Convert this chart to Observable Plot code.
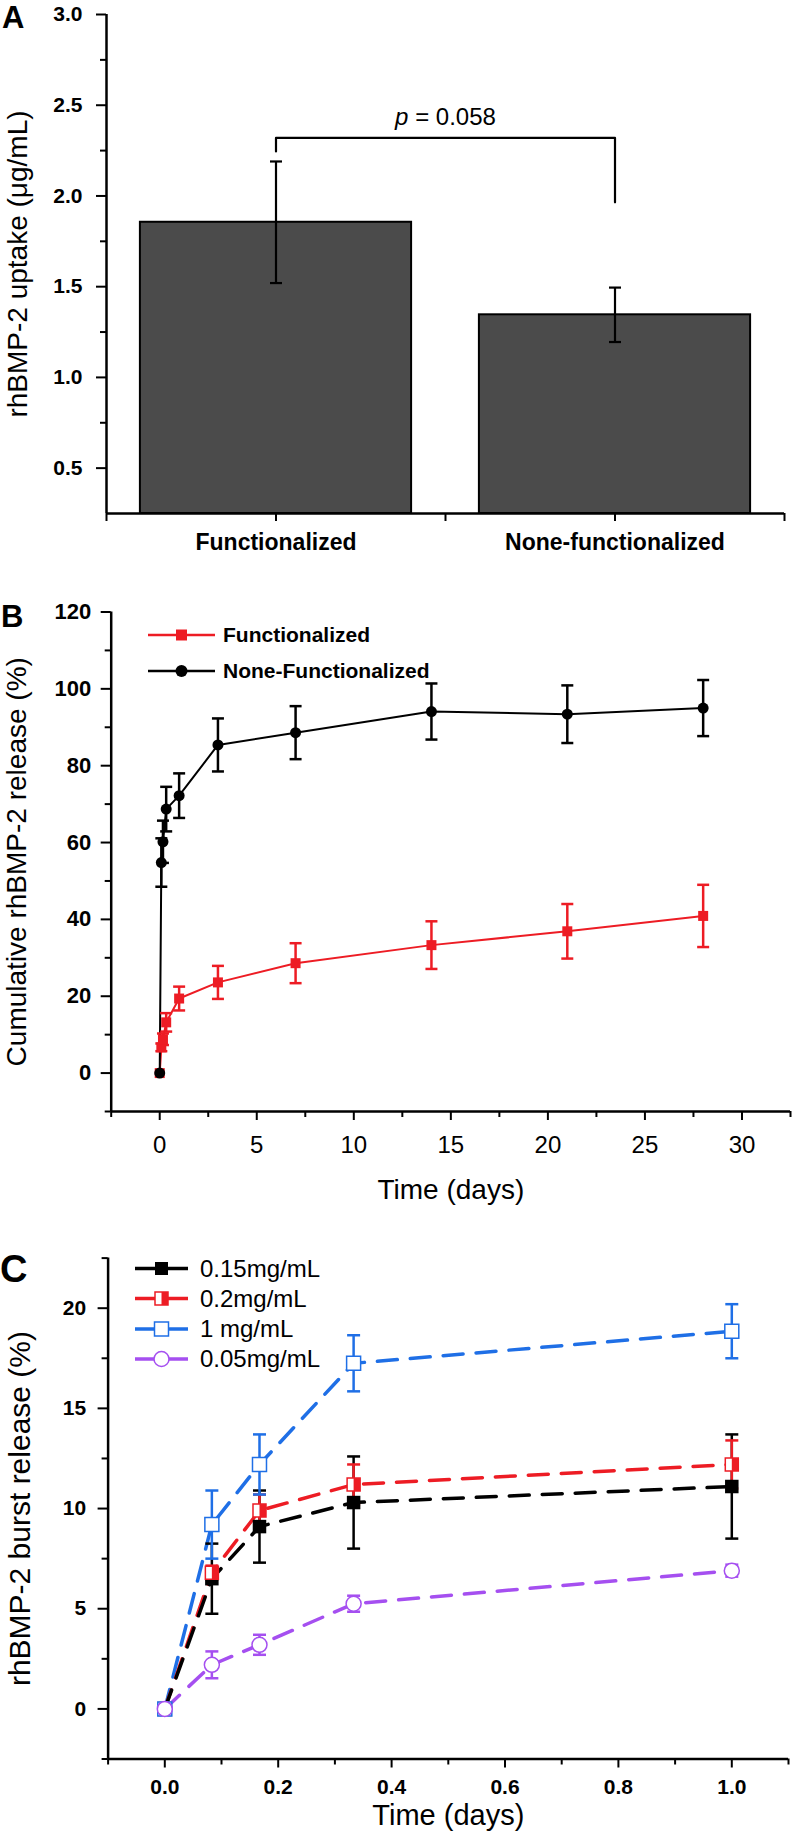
<!DOCTYPE html>
<html><head><meta charset="utf-8">
<script src="https://cdn.jsdelivr.net/npm/d3@7"></script>
<script src="https://cdn.jsdelivr.net/npm/@observablehq/plot@0.6"></script>
<style>
html,body{margin:0;padding:0;background:#fff;}
#fig{position:relative;width:792px;height:1839px;overflow:hidden;background:#fff;}
#fig > svg{position:absolute;left:0;}
</style></head><body><div id="fig"></div>
<script>
// ---------- DATA ----------
// Panel A
const categoriesA = ["Functionalized", "None-functionalized"];
const uptakeMean = [1.855, 1.345];
const uptakeErr = [0.335, 0.15];
const yTicksA = [0.5, 1.0, 1.5, 2.0, 2.5, 3.0];
const yMinorTicksA = [0.75, 1.25, 1.75, 2.25, 2.75];
const yDomainA = [0.25, 3.0];
const pSymbol = "p";
const pValue = "0.058";
const bracketTop = 2.32;
const bracketLeftEnd = 2.245;
const bracketRightEnd = 1.965;
const yTitleA = "rhBMP-2 uptake (\u03bcg/mL)";

// Panel B
const seriesNamesB = ["Functionalized", "None-Functionalized"];
const timeB = [0, 0.083, 0.167, 0.333, 1, 3, 7, 14, 21, 28];
const funcMean = [0, 6.7, 8.8, 13.2, 19.4, 23.6, 28.6, 33.3, 36.9, 40.9];
const funcErr  = [0, 1.0, 1.5, 2.4, 3.1, 4.3, 5.2, 6.2, 7.1, 8.1];
const noneMean = [0, 54.8, 60.2, 68.7, 72.2, 85.4, 88.6, 94.1, 93.4, 95.0];
const noneErr  = [0, 6.3, 5.5, 5.8, 5.8, 6.9, 6.9, 7.3, 7.5, 7.3];
const xDomainB = [-2.5, 32.5];
const xTicksB = [0, 5, 10, 15, 20, 25, 30];
const xMinorTicksB = [-2.5, 2.5, 7.5, 12.5, 17.5, 22.5, 27.5, 32.5];
const yDomainB = [-10, 120];
const yTicksB = [0, 20, 40, 60, 80, 100, 120];
const yMinorTicksB = [-10, 10, 30, 50, 70, 90, 110];
const yTitleB = "Cumulative rhBMP-2 release (%)";
const xTitle = "Time (days)";

// Panel C
const seriesNamesC = ["0.15mg/mL", "0.2mg/mL", "1 mg/mL", "0.05mg/mL"];
const timeC = [0, 0.083, 0.167, 0.333, 1.0];
const c015Mean = [0, 6.5, 9.1, 10.3, 11.1];
const c015Err  = [0, 1.75, 1.8, 2.3, 2.6];
const c02Mean  = [0, 6.8, 9.9, 11.2, 12.2];
const c02Err   = [0, 0.35, 0.8, 1.0, 1.2];
const c1Mean   = [0, 9.2, 12.2, 17.25, 18.85];
const c1Err    = [0, 1.7, 1.5, 1.4, 1.35];
const c005Mean = [0, 2.2, 3.2, 5.25, 6.9];
const c005Err  = [0, 0.67, 0.5, 0.4, 0.3];
const xDomainC = [-0.1, 1.1];
const xTicksC = [0, 0.2, 0.4, 0.6, 0.8, 1.0];
const xMinorTicksC = [-0.1, 0.1, 0.3, 0.5, 0.7, 0.9, 1.1];
const yDomainC = [-2.5, 22.5];
const yTicksC = [0, 5, 10, 15, 20];
const yMinorTicksC = [-2.5, 2.5, 7.5, 12.5, 17.5, 22.5];
const yTitleC = "rhBMP-2 burst release (%)";

// ---------- STYLE ----------
const FONT = '"Liberation Sans", Arial, Helvetica, sans-serif';
const RED = "#ed1c24", BLUE = "#1f6fe6", PURPLE = "#a54ff0", BLACK = "#000";
const capSymbol = {draw(ctx, size) { const w = Math.sqrt(size); ctx.moveTo(-w / 2, 0); ctx.lineTo(w / 2, 0); }};
const halfSquare = {draw(ctx, size) { const w = Math.sqrt(size); ctx.rect(0, -w / 2, w / 2, w); }};
const rW = w => w / Math.sqrt(Math.PI); // radius giving symbol width w

function errorBars(data, x, y, e, color, capW, sw) {
  const d = data.filter(v => v[e] > 0);
  return [
    Plot.ruleX(d, {x, y1: v => v[y] - v[e], y2: v => v[y] + v[e], stroke: color, strokeWidth: sw}),
    Plot.dot(d, {x, y: v => v[y] + v[e], symbol: capSymbol, r: rW(capW), stroke: color, fill: "none", strokeWidth: sw}),
    Plot.dot(d, {x, y: v => v[y] - v[e], symbol: capSymbol, r: rW(capW), stroke: color, fill: "none", strokeWidth: sw})
  ];
}

const fig = document.getElementById("fig");
const baseStyle = {fontFamily: FONT, background: "none", color: "#000", overflow: "visible"};

// ---------- PANEL A ----------
const dataA = categoriesA.map((c, i) => ({c, pos: 2 * i + 1, mean: uptakeMean[i], err: uptakeErr[i]}));
const bracket = [
  {x: dataA[0].pos, y: bracketLeftEnd},
  {x: dataA[0].pos, y: bracketTop},
  {x: dataA[1].pos, y: bracketTop},
  {x: dataA[1].pos, y: bracketRightEnd}
];
const xDomainA = [0, 2 * categoriesA.length];
const xTicksA = d3.range(xDomainA[0], xDomainA[1] + 1);
const svgA = Plot.plot({
  width: 792, height: 565,
  marginLeft: 106, marginRight: 8, marginTop: 14, marginBottom: 52,
  style: baseStyle,
  x: {domain: xDomainA},
  y: {domain: yDomainA},
  marks: [
    Plot.rectY(dataA, {x1: d => d.pos - 0.8, x2: d => d.pos + 0.8, y1: () => yDomainA[0], y2: "mean",
      fill: "#4b4b4b", stroke: "#000", strokeWidth: 2}),
    ...errorBars(dataA, "pos", "mean", "err", "#000", 12, 2.2),
    Plot.line(bracket, {x: "x", y: "y", stroke: "#000", strokeWidth: 2.2}),
    Plot.text([pSymbol + " = " + pValue], {x: () => (dataA[0].pos + dataA[1].pos) / 2, y: () => bracketTop,
      dy: -21, fontSize: 24}),
    Plot.ruleX([xDomainA[0]], {strokeWidth: 2.5}),
    Plot.ruleY([yDomainA[0]], {strokeWidth: 2.5}),
    Plot.axisY({ticks: yTicksA, tickSize: 10, tickPadding: 14, tickFormat: d3.format(".1f"), fontSize: 21,
      fontWeight: "bold", strokeWidth: 2, label: null}),
    Plot.axisY({ticks: yMinorTicksA, tickSize: 6, tickFormat: () => "", strokeWidth: 2, label: null}),
    Plot.axisX({ticks: xTicksA, tickSize: 8, tickPadding: 12, strokeWidth: 2, fontSize: 23, fontWeight: "bold",
      tickFormat: v => v % 2 === 1 ? categoriesA[(v - 1) / 2] : "", label: null}),
    Plot.text([yTitleA], {frameAnchor: "left", rotate: -90, dx: -88, textAnchor: "middle", fontSize: 28})
  ]
});
svgA.style.top = "0px";
fig.append(svgA);
d3.select(svgA).selectAll("text").filter(function () { return this.textContent === pSymbol + " = " + pValue; })
  .each(function () {
    const t = d3.select(this); t.text(null);
    t.append("tspan").attr("font-style", "italic").text(pSymbol);
    t.append("tspan").text(" = " + pValue);
  });

// ---------- PANEL B ----------
const dataFunc = timeB.map((t, i) => ({t, v: funcMean[i], e: funcErr[i]}));
const dataNone = timeB.map((t, i) => ({t, v: noneMean[i], e: noneErr[i]}));
const svgB = Plot.plot({
  width: 792, height: 650,
  marginLeft: 110.7, marginRight: 2, marginTop: 46.5, marginBottom: 104,
  style: baseStyle,
  x: {domain: xDomainB},
  y: {domain: yDomainB},
  marks: [
    Plot.line(dataFunc, {x: "t", y: "v", stroke: RED, strokeWidth: 2}),
    Plot.line(dataNone, {x: "t", y: "v", stroke: BLACK, strokeWidth: 2}),
    ...errorBars(dataFunc, "t", "v", "e", RED, 12, 2.5),
    ...errorBars(dataNone, "t", "v", "e", BLACK, 12, 2.5),
    Plot.dot(dataFunc, {x: "t", y: "v", symbol: "square", r: rW(10), fill: RED}),
    Plot.dot(dataNone, {x: "t", y: "v", symbol: "circle", r: 5.5, fill: BLACK}),
    Plot.ruleX([xDomainB[0]], {strokeWidth: 2.5}),
    Plot.ruleY([yDomainB[0]], {strokeWidth: 2.5}),
    Plot.axisY({ticks: yTicksB, tickSize: 10, tickPadding: 10, fontSize: 22, fontWeight: "bold", strokeWidth: 2, label: null}),
    Plot.axisY({ticks: yMinorTicksB, tickSize: 6, tickFormat: () => "", strokeWidth: 2, label: null}),
    Plot.axisX({ticks: xTicksB, tickSize: 9, tickPadding: 15, fontSize: 24, strokeWidth: 2, label: null}),
    Plot.axisX({ticks: xMinorTicksB, tickSize: 6, tickFormat: () => "", strokeWidth: 2, label: null}),
    Plot.text([yTitleB], {frameAnchor: "left", rotate: -90, dx: -94, textAnchor: "middle", fontSize: 28}),
    Plot.text([xTitle], {frameAnchor: "bottom", dy: 87, textAnchor: "middle", fontSize: 28})
  ]
});
svgB.style.top = "565px";
fig.append(svgB);

// ---------- PANEL C ----------
const mk = (m, e) => timeC.map((t, i) => ({t, v: m[i], e: e[i]}));
const d015 = mk(c015Mean, c015Err), d02 = mk(c02Mean, c02Err), d1 = mk(c1Mean, c1Err), d005 = mk(c005Mean, c005Err);
const dash = "20,13";
const svgC = Plot.plot({
  width: 792, height: 624,
  marginLeft: 107.6, marginRight: 4, marginTop: 42.6, marginBottom: 80.5,
  style: baseStyle,
  x: {domain: xDomainC},
  y: {domain: yDomainC},
  marks: [
    Plot.line(d1, {x: "t", y: "v", stroke: BLUE, strokeWidth: 3.5, strokeDasharray: dash}),
    Plot.line(d005, {x: "t", y: "v", stroke: PURPLE, strokeWidth: 3.5, strokeDasharray: dash}),
    Plot.line(d02, {x: "t", y: "v", stroke: RED, strokeWidth: 3.5, strokeDasharray: dash}),
    Plot.line(d015, {x: "t", y: "v", stroke: BLACK, strokeWidth: 3.5, strokeDasharray: dash}),
    ...errorBars(d015, "t", "v", "e", BLACK, 13, 2.5),
    ...errorBars(d02, "t", "v", "e", RED, 13, 2.5),
    ...errorBars(d1, "t", "v", "e", BLUE, 13, 2.5),
    ...errorBars(d005, "t", "v", "e", PURPLE, 13, 2.5),
    Plot.dot(d015, {x: "t", y: "v", symbol: "square", r: rW(13.5), fill: BLACK}),
    Plot.dot(d02, {x: "t", y: "v", symbol: "square", r: rW(13), fill: "#fff", stroke: RED, strokeWidth: 1.5}),
    Plot.dot(d02, {x: "t", y: "v", symbol: halfSquare, r: rW(13), fill: RED}),
    Plot.dot(d1, {x: "t", y: "v", symbol: "square", r: rW(14), fill: "#fff", stroke: BLUE, strokeWidth: 1.5}),
    Plot.dot(d005, {x: "t", y: "v", symbol: "circle", r: 7.5, fill: "#fff", stroke: PURPLE, strokeWidth: 1.5}),
    Plot.ruleX([xDomainC[0]], {strokeWidth: 2.5}),
    Plot.ruleY([yDomainC[0]], {strokeWidth: 2.5}),
    Plot.axisY({ticks: yTicksC, tickSize: 10, tickPadding: 12, fontSize: 21, fontWeight: "bold", strokeWidth: 2, label: null}),
    Plot.axisY({ticks: yMinorTicksC, tickSize: 6, tickFormat: () => "", strokeWidth: 2, label: null}),
    Plot.axisX({ticks: xTicksC, tickSize: 9, tickPadding: 11, fontSize: 21, fontWeight: "bold", strokeWidth: 2,
      tickFormat: d3.format(".1f"), label: null}),
    Plot.axisX({ticks: xMinorTicksC, tickSize: 6, tickFormat: () => "", strokeWidth: 2, label: null}),
    Plot.text([yTitleC], {frameAnchor: "left", rotate: -90, dx: -88, textAnchor: "middle", fontSize: 30}),
    Plot.text([xTitle], {frameAnchor: "bottom", dy: 65.5, textAnchor: "middle", fontSize: 29})
  ]
});
svgC.style.top = "1215px";
fig.append(svgC);

// ---------- OVERLAY: panel letters and legends ----------
const ov = d3.select(fig).append("svg").attr("width", 792).attr("height", 1839)
  .style("top", "0px").style("pointer-events", "none").style("font-family", FONT);
[["A", 2, 28, 31], ["B", 1, 627, 31], ["C", 0, 1282, 38]].forEach(([t, x, y, fs]) =>
  ov.append("text").attr("x", x).attr("y", y).attr("font-size", fs).attr("font-weight", "bold").text(t));

function legendRow(g, x0, x1, y, color, sw, markers, label, textX, fs, fw) {
  g.append("line").attr("x1", x0).attr("x2", x1).attr("y1", y).attr("y2", y)
    .attr("stroke", color).attr("stroke-width", sw);
  const cx = (x0 + x1) / 2;
  markers.forEach(m => g.append("path").attr("transform", `translate(${cx},${y})`)
    .attr("d", d3.symbol(m.type, m.size)()).attr("fill", m.fill).attr("stroke", m.stroke || "none")
    .attr("stroke-width", m.sw || 0));
  g.append("text").attr("x", textX).attr("y", y).attr("dy", "0.35em").attr("font-size", fs)
    .attr("font-weight", fw).text(label);
}
const sq = w => w * w;
const legB = ov.append("g");
legendRow(legB, 148, 215, 635, RED, 2.5, [{type: d3.symbolSquare, size: sq(11), fill: RED}], seriesNamesB[0], 223, 21, "bold");
legendRow(legB, 148, 215, 671, BLACK, 2.5, [{type: d3.symbolCircle, size: Math.PI * 6 * 6, fill: BLACK}], seriesNamesB[1], 223, 21, "bold");

const legC = ov.append("g");
const rowsC = [1268.5, 1298.5, 1329, 1359];
legendRow(legC, 135, 188, rowsC[0], BLACK, 3.5, [{type: d3.symbolSquare, size: sq(13), fill: BLACK}], seriesNamesC[0], 200, 24, "normal");
legendRow(legC, 135, 188, rowsC[1], RED, 3.5, [{type: d3.symbolSquare, size: sq(13), fill: "#fff", stroke: RED, sw: 1.5},
  {type: halfSquare, size: sq(13), fill: RED}], seriesNamesC[1], 200, 24, "normal");
legendRow(legC, 135, 188, rowsC[2], BLUE, 3.5, [{type: d3.symbolSquare, size: sq(14), fill: "#fff", stroke: BLUE, sw: 1.5}], seriesNamesC[2], 200, 24, "normal");
legendRow(legC, 135, 188, rowsC[3], PURPLE, 3.5, [{type: d3.symbolCircle, size: Math.PI * 7.5 * 7.5, fill: "#fff", stroke: PURPLE, sw: 1.5}], seriesNamesC[3], 200, 24, "normal");
</script></body></html>
